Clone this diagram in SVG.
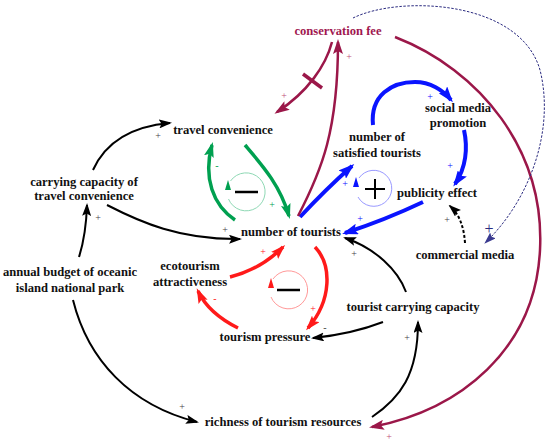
<svg xmlns="http://www.w3.org/2000/svg" width="550" height="443" viewBox="0 0 550 443">
<style>
.n{font-family:'Liberation Serif','Times New Roman',serif;font-size:12.6px;font-weight:bold;fill:#111;text-anchor:middle}
.p{font-family:'Liberation Serif','Times New Roman',serif;font-size:10px;text-anchor:middle}
.c{fill:none}
.k{stroke:#000;stroke-width:2}
.b{stroke:#0A14FF;stroke-width:4}
.g{stroke:#00A050;stroke-width:3.5}
.r{stroke:#FF1A1A;stroke-width:3.5}
.m{stroke:#9B1749;stroke-width:2.5}
.d{stroke:#2B2B80;stroke-width:1;stroke-dasharray:2.5,1.5}
</style>
<defs>
<marker id="ak" viewBox="0 0 13 9" refX="11" refY="4.5" markerWidth="13" markerHeight="9" markerUnits="userSpaceOnUse" orient="auto"><path d="M0,0 L13,4.5 L0,9 L2.5,4.5z" fill="#000"/></marker>
<marker id="ab" viewBox="0 0 16 11" refX="13" refY="5.5" markerWidth="16" markerHeight="11" markerUnits="userSpaceOnUse" orient="auto"><path d="M0,0 L16,5.5 L0,11 L3,5.5z" fill="#0A14FF"/></marker>
<marker id="ag" viewBox="0 0 15 10" refX="12" refY="5" markerWidth="15" markerHeight="10" markerUnits="userSpaceOnUse" orient="auto"><path d="M0,0 L15,5 L0,10 L3,5z" fill="#00A050"/></marker>
<marker id="ar" viewBox="0 0 15 10" refX="12" refY="5" markerWidth="15" markerHeight="10" markerUnits="userSpaceOnUse" orient="auto"><path d="M0,0 L15,5 L0,10 L3,5z" fill="#FF1A1A"/></marker>
<marker id="am" viewBox="0 0 15 10" refX="12" refY="5" markerWidth="15" markerHeight="10" markerUnits="userSpaceOnUse" orient="auto"><path d="M0,0 L15,5 L0,10 L3,5z" fill="#9B1749"/></marker>
<marker id="ad" viewBox="0 0 12 8" refX="11" refY="4" markerWidth="12" markerHeight="8" markerUnits="userSpaceOnUse" orient="auto"><path d="M0,0 L12,4 L0,8 L2,4z" fill="#3A3A90"/></marker>
</defs>

<g id="connectors">
<path class="c k" d="M93,170 Q112,128 170,123" marker-end="url(#ak)"/>
<path class="c k" d="M107,205 C140,222 180,240 240,239" marker-end="url(#ak)"/>
<path class="c k" d="M79,257 Q86,235 87,205" marker-end="url(#ak)"/>
<path class="c k" d="M73,300 C88,360 130,405 197,422" marker-end="url(#ak)"/>
<path class="c k" d="M372,417 C400,398 418,375 418,322" marker-end="url(#ak)"/>
<path class="c k" d="M383,322 Q352,334 313,338" marker-end="url(#ak)"/>
<path class="c k" d="M406,292 C398,270 375,248 345,238" marker-end="url(#ak)"/>
<path class="c k" d="M465,243 C464,228 460,215 450,206" stroke-dasharray="3,2" stroke-width="1.5" marker-end="url(#ak)"/>

<path class="c b" d="M300,217 Q325,190 352,166" marker-end="url(#ab)"/>
<path class="c b" d="M373,125 C370,95 392,82 415,82 C430,82 443,90 451,100" marker-end="url(#ab)"/>
<path class="c b" d="M464,130 C468,148 466,168 455,184" marker-end="url(#ab)"/>
<path class="c b" d="M423,202 Q385,220 345,233" marker-end="url(#ab)"/>

<path class="c g" d="M245,145 C262,165 280,185 289,216" marker-end="url(#ag)"/>
<path class="c g" d="M235,220 C213,205 203,178 212,145" marker-end="url(#ag)"/>

<path class="c r" d="M230,277 C250,272 268,262 283,247" marker-end="url(#ar)"/>
<path class="c r" d="M315,247 C332,265 332,300 308,328" marker-end="url(#ar)"/>
<path class="c r" d="M238,328 C222,320 206,308 198,291" marker-end="url(#ar)"/>

<path class="c m" d="M298,216 C322,170 338,130 338,42" marker-end="url(#am)"/>
<path class="c m" d="M332,42 C326,65 308,92 277,112" marker-end="url(#am)"/>
<line x1="303" y1="74" x2="322" y2="88" stroke="#9B1749" stroke-width="3.5"/>
<path class="c m" d="M395,37 C480,70 545,150 540,250 C535,350 460,410 372,427" marker-end="url(#am)"/>

<path class="c d" d="M353,18 C400,-5 520,0 540,70 C555,130 530,200 485,243" marker-end="url(#ad)"/>
</g>

<g id="polarities">
<text class="p" x="158" y="139" fill="#444">+</text>
<text class="p" x="225" y="233" fill="#444">+</text>
<text class="p" x="98" y="221" fill="#444">+</text>
<text class="p" x="182" y="410" fill="#444">+</text>
<text class="p" x="407" y="341" fill="#444">+</text>
<text class="p" x="325" y="331" fill="#444">-</text>
<text class="p" x="354" y="257" fill="#444">+</text>
<text class="p" x="447" y="223" fill="#444">+</text>
<text class="p" x="345" y="187" fill="#0A14FF">+</text>
<text class="p" x="430" y="100" fill="#0A14FF">+</text>
<text class="p" x="450" y="169" fill="#0A14FF">+</text>
<text class="p" x="360" y="222" fill="#0A14FF">+</text>
<text class="p" x="217" y="169" fill="#00A050">-</text>
<text class="p" x="272" y="208" fill="#00A050">+</text>
<text class="p" x="263" y="255" fill="#FF1A1A">+</text>
<text class="p" x="313" y="312" fill="#FF1A1A">+</text>
<text class="p" x="215" y="302" fill="#FF1A1A">-</text>
<text class="p" x="349" y="60" fill="#C0507A">+</text>
<text class="p" x="284" y="99" fill="#C0507A">+</text>
<text class="p" x="389" y="440" fill="#C0507A">+</text>
<text x="489" y="234" font-family="Liberation Serif, serif" font-size="16" text-anchor="middle" fill="#2B2B80">+</text>
</g>

<g id="loop-B1">
<path d="M230.5,181 A19,19 0 1 1 228.5,199" fill="none" stroke="#8ED8B4" stroke-width="1"/>
<path d="M228,180 L231,190 L225,190z" fill="#00A050"/>
<line x1="235" y1="192" x2="258" y2="192" stroke="#000" stroke-width="2.5"/>
</g>
<g id="loop-B2">
<path d="M273,279 A19,19 0 1 1 271,297" fill="none" stroke="#F99" stroke-width="1"/>
<path d="M271,278 L274,288 L268,288z" fill="#FF1A1A"/>
<line x1="277" y1="290" x2="300" y2="290" stroke="#000" stroke-width="2.5"/>
</g>
<g id="loop-R1">
<path d="M359,178 A18,18 0 1 1 358,197" fill="none" stroke="#99F" stroke-width="1"/>
<path d="M356,177 L359,187 L353,187z" fill="#0A14FF"/>
<line x1="365" y1="189" x2="385" y2="189" stroke="#000" stroke-width="2"/>
<line x1="375" y1="179" x2="375" y2="199" stroke="#000" stroke-width="2"/>
</g>

<g id="conservation-fee"><text class="n" x="338" y="35" style="fill:#A0174F">conservation fee</text></g>
<g id="travel-convenience"><text class="n" x="223" y="134">travel convenience</text></g>
<g id="satisfied-tourists"><text class="n" x="377" y="141">number of</text><text class="n" x="377" y="157">satisfied tourists</text></g>
<g id="social-media"><text class="n" x="458" y="112">social media</text><text class="n" x="458" y="127">promotion</text></g>
<g id="publicity-effect"><text class="n" x="437" y="197">publicity effect</text></g>
<g id="carrying-capacity-travel"><text class="n" x="84" y="186">carrying capacity of</text><text class="n" x="84" y="200">travel convenience</text></g>
<g id="number-of-tourists"><text class="n" x="291" y="236">number of tourists</text></g>
<g id="commercial-media"><text class="n" x="465" y="259">commercial media</text></g>
<g id="annual-budget"><text class="n" x="70" y="276">annual budget of oceanic</text><text class="n" x="70" y="292">island national park</text></g>
<g id="ecotourism"><text class="n" x="190" y="270">ecotourism</text><text class="n" x="190" y="286">attractiveness</text></g>
<g id="tourist-carrying-capacity"><text class="n" x="413" y="311">tourist carrying capacity</text></g>
<g id="tourism-pressure"><text class="n" x="265" y="341">tourism pressure</text></g>
<g id="richness"><text class="n" x="283" y="426">richness of tourism resources</text></g>
</svg>
